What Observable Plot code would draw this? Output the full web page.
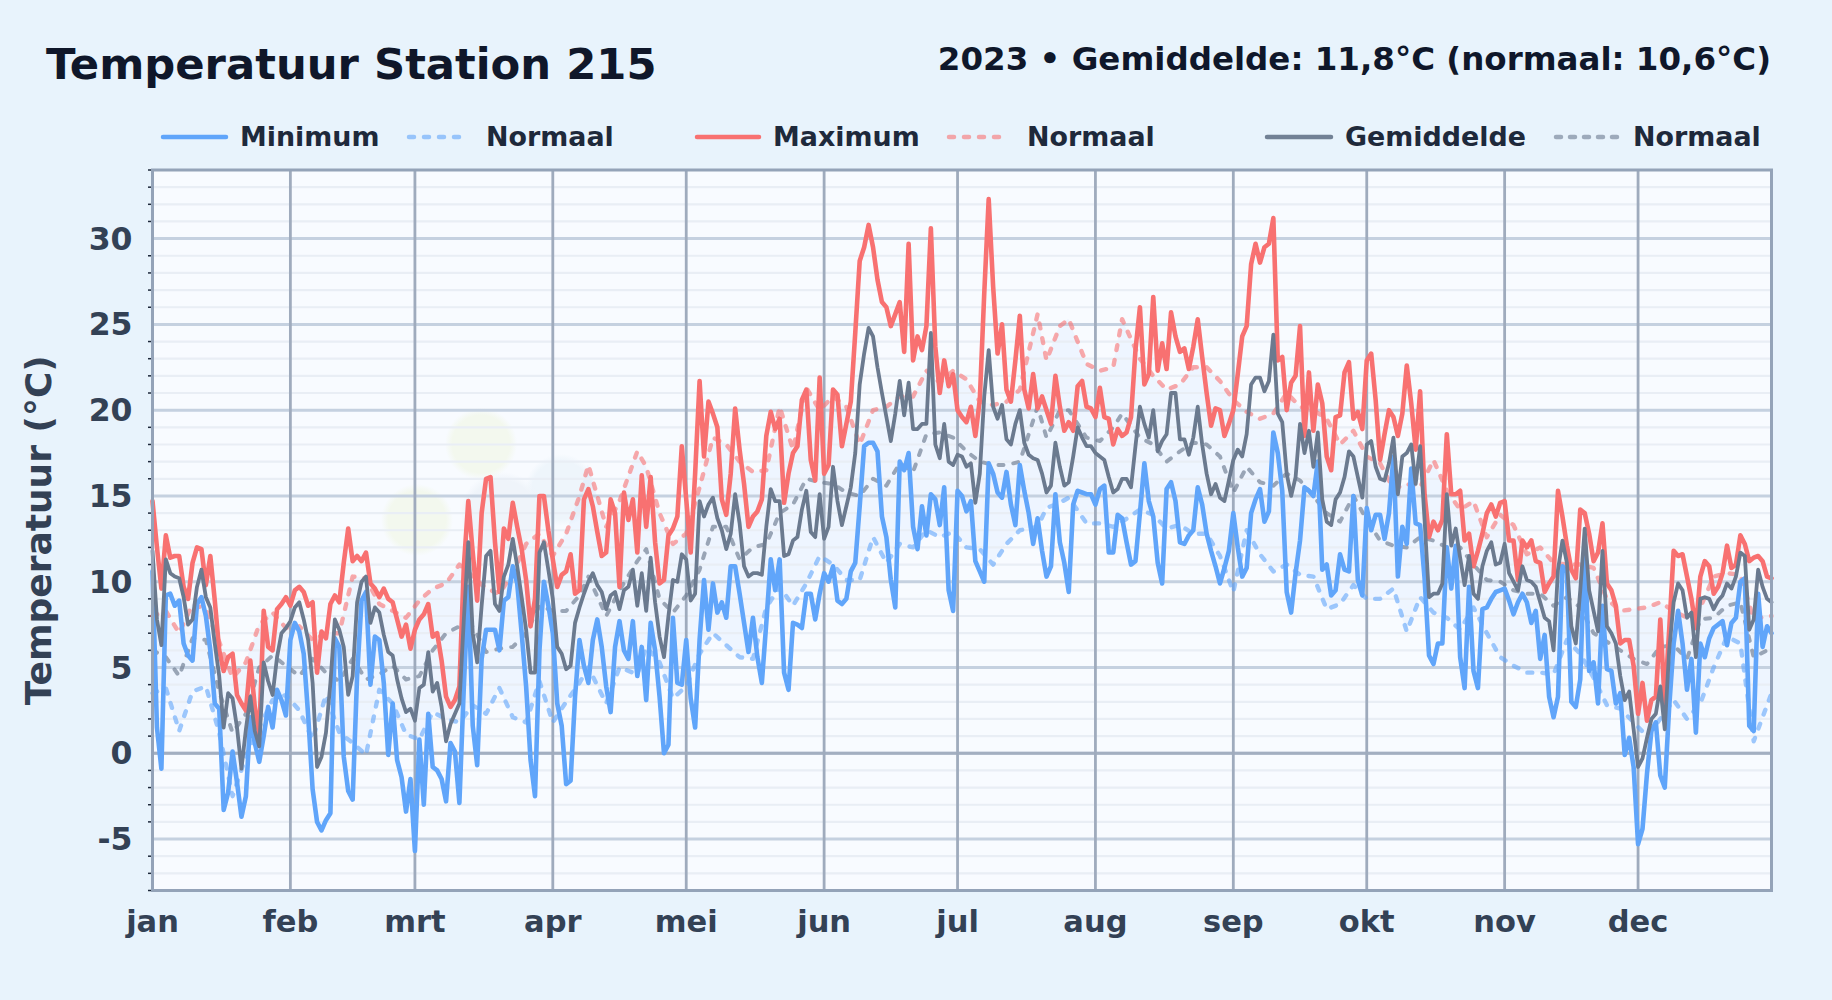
<!DOCTYPE html>
<html lang="nl">
<head>
<meta charset="utf-8">
<title>Temperatuur Station 215</title>
<script src="https://cdn.jsdelivr.net/npm/d3@7"></script>
<script src="https://cdn.jsdelivr.net/npm/@observablehq/plot@0.6"></script>
<style>
  html,body{margin:0;padding:0;background:#e8f3fc;overflow:hidden;}
  body{width:1832px;height:1000px;position:relative;font-family:"DejaVu Sans",sans-serif;font-weight:700;}
  #title{position:absolute;left:46px;top:38px;font-size:43.3px;line-height:52px;color:#0f172a;white-space:nowrap;}
  #sub{position:absolute;right:61px;top:38px;font-size:32.5px;line-height:42px;color:#0f172a;white-space:nowrap;}
  .lt{position:absolute;top:121px;font-size:26.9px;line-height:32px;color:#1e293b;white-space:nowrap;}
  .ll{position:absolute;top:127px;height:20px;overflow:visible;}
  #bg{position:absolute;left:152px;top:169px;width:1619px;height:721px;
    background:
      radial-gradient(circle 36px at 329px 275px,#f3f8ee 80%,transparent),
      radial-gradient(circle 36px at 265px 351px,#f3f8ee 80%,transparent),
      radial-gradient(circle 42px at 350px 345px,#eff4fa 80%,transparent),
      radial-gradient(circle 36px at 409px 321px,#eef5fb 80%,transparent),
      #f8fbff;}
  #chart{position:absolute;left:0;top:160px;}
  #chart svg{display:block;background:transparent;}
</style>
</head>
<body>
<div id="bg"></div>
<div id="title">Temperatuur Station 215</div>
<div id="sub">2023 • Gemiddelde: 11,8°C (normaal: 10,6°C)</div>
<div id="legend"></div>
<div id="chart"></div>
<script>
const monthLabels = ["jan","feb","mrt","apr","mei","jun","jul","aug","sep","okt","nov","dec"];
const monthStarts = [0,31,59,90,120,151,181,212,243,273,304,334];

const tMax = [
14.7,12.0,9.6,12.7,11.4,11.5,11.5,9.7,9.0,11.1,
12.0,11.9,9.8,11.5,8.9,6.0,4.8,5.6,5.8,3.4,
2.9,2.5,5.4,2.7,1.1,8.3,6.2,6.0,8.4,8.7,
9.1,8.6,9.5,9.7,9.4,8.6,8.8,4.7,7.1,6.7,
8.7,9.2,8.8,11.1,13.1,11.2,11.5,11.2,11.7,9.9,
9.6,9.1,9.6,9.0,8.8,7.8,6.8,7.5,6.1,7.2,
7.8,8.1,8.7,6.8,7.0,5.4,3.3,2.7,3.1,3.9,
10.9,14.7,11.7,8.9,14.0,16.0,16.1,12.3,9.4,13.1,
12.5,14.6,13.2,11.9,10.1,7.4,9.0,15.0,15.0,13.0,
11.3,9.7,10.4,10.6,11.6,9.3,9.5,14.8,15.4,14.4,
12.9,11.5,11.7,14.8,14.0,9.7,15.2,13.6,14.8,11.7,
16.2,13.2,16.1,12.3,9.9,10.1,12.7,13.1,13.8,17.9,
14.8,11.7,16.3,21.7,17.3,20.5,19.8,19.0,14.8,13.9,
16.3,20.1,17.7,15.7,13.2,13.8,14.1,14.8,18.5,19.9,
18.9,19.5,14.6,16.3,17.5,17.9,20.6,21.2,17.1,15.9,
21.9,16.3,16.8,21.2,20.9,17.9,19.2,20.5,24.5,28.7,
29.5,30.8,29.5,27.6,26.3,26.0,24.9,25.6,26.3,23.4,
29.7,22.9,24.3,23.5,24.9,30.6,23.7,21.0,22.9,21.4,
22.1,20.0,19.6,19.3,20.2,18.5,20.6,26.8,32.3,27.2,
23.3,25.0,21.2,20.5,22.9,25.5,21.2,20.1,22.1,20.1,
20.8,20.0,19.2,22.0,20.2,18.8,19.3,18.8,21.4,21.7,
20.2,20.1,19.6,21.3,19.6,19.5,18.0,18.9,18.5,18.7,
19.6,23.5,26.0,21.5,22.1,26.6,22.3,23.9,22.4,25.7,
24.3,23.4,23.6,22.4,23.7,25.3,23.1,21.0,19.1,20.1,
20.0,18.5,19.2,20.0,22.1,24.3,24.9,28.5,29.7,28.6,
29.5,29.7,31.2,22.9,23.1,20.0,21.6,22.0,24.9,18.5,
22.2,18.8,21.5,20.4,17.3,16.5,19.6,19.7,22.2,22.8,
19.5,19.9,18.9,22.9,23.3,20.6,17.1,18.6,20.0,19.6,
18.5,19.8,22.6,20.4,17.7,21.1,15.1,12.6,13.5,13.0,
13.6,18.6,15.1,15.1,15.3,12.4,12.8,10.9,11.8,12.8,
14.0,14.5,13.8,14.6,14.7,12.4,12.4,10.1,12.4,12.0,
12.4,11.2,11.1,9.4,9.9,10.3,15.3,13.8,12.1,10.7,
10.2,14.2,14.0,12.8,11.2,11.7,13.4,9.9,9.5,8.6,
6.4,6.6,6.6,5.1,2.3,4.1,1.9,3.1,3.3,7.8,
2.9,7.2,11.8,11.5,11.6,10.3,9.0,7.3,10.3,11.2,
10.9,9.3,9.7,10.5,12.1,10.8,11.0,12.7,12.2,11.2,
11.4,11.5,11.2,10.3,10.2];

const tMin = [
10.6,1.5,-0.9,9.2,9.3,8.6,8.9,6.4,5.7,5.4,
8.7,9.1,8.0,6.0,2.9,2.6,-3.3,-2.3,0.1,-1.7,
-3.7,-2.5,2.1,0.6,-0.5,1.0,2.7,1.5,3.7,3.1,
2.2,6.6,7.6,7.1,5.8,2.2,-2.1,-4.0,-4.5,-3.9,
-3.5,6.7,6.2,-0.2,-2.2,-2.7,4.5,8.9,9.4,4.0,
6.8,6.6,4.1,-0.1,2.9,-0.4,-1.4,-3.4,-1.5,-5.7,
0.8,-3.0,2.3,-0.8,-1.0,-1.5,-2.8,0.6,0.1,-2.9,
3.9,9.7,1.6,-0.7,5.5,7.2,7.2,7.2,6.0,8.9,
9.1,10.9,9.9,7.0,3.9,-0.4,-2.5,6.0,10.0,8.6,
7.0,2.9,1.6,-1.8,-1.6,3.3,6.6,5.1,4.1,6.6,
7.8,6.2,3.9,2.4,6.2,7.7,6.0,5.5,7.7,4.5,
6.2,3.1,7.6,6.0,3.3,0.0,0.5,7.9,4.1,4.0,
6.6,3.2,1.5,6.6,10.1,7.2,9.9,8.2,8.8,7.9,
10.9,10.9,9.3,7.6,5.9,7.9,5.6,4.1,7.6,11.3,
9.5,11.3,4.7,3.7,7.6,7.5,7.3,9.3,9.3,7.8,
9.3,10.5,10.0,10.9,8.9,8.7,9.0,10.6,11.1,14.4,
17.9,18.1,18.1,17.6,13.8,12.6,10.1,8.5,17.0,16.5,
17.5,13.2,11.9,14.4,12.7,15.1,14.8,13.3,15.5,9.5,
8.3,15.3,15.0,14.1,14.7,11.2,10.6,10.0,16.9,16.3,
15.2,14.9,16.4,14.5,13.3,16.8,15.3,14.0,12.2,13.7,
11.8,10.3,10.9,15.1,12.3,11.1,9.4,14.5,15.3,15.2,
15.1,15.1,14.5,15.4,15.6,11.7,11.7,13.9,13.7,12.3,
11.0,11.2,14.0,16.9,14.7,13.8,11.1,9.9,15.4,15.8,
14.7,12.3,12.2,12.7,13.0,15.5,14.5,12.8,11.8,10.9,
9.9,10.8,11.8,14.0,12.0,10.3,10.8,14.0,14.8,15.4,
13.5,14.1,18.7,17.5,15.3,9.4,8.2,10.5,12.4,15.5,
15.3,15.0,17.0,10.7,11.0,9.2,9.5,11.6,10.7,10.6,
15.0,10.1,9.2,14.3,13.0,13.9,13.9,12.5,14.0,17.3,
10.3,13.2,12.2,16.6,13.4,13.3,10.2,5.7,5.2,6.4,
6.4,12.0,9.6,12.1,5.6,3.8,9.7,4.8,3.8,8.4,
8.5,9.0,9.4,9.5,9.6,8.9,8.1,8.8,9.3,8.8,
7.6,8.3,5.5,6.9,3.3,2.1,3.3,10.9,10.6,3.0,
2.7,4.3,12.2,4.8,5.3,2.9,8.6,4.9,4.8,2.9,
3.5,-0.1,0.9,-0.8,-5.3,-4.4,-1.2,1.3,1.8,-1.3,
-2.0,2.7,6.4,8.3,6.4,3.7,5.5,1.2,6.4,5.6,
6.7,7.3,7.5,7.7,6.3,7.6,7.9,10.0,10.2,1.6,
1.3,9.3,6.2,7.4,7.0];

const tMean = [
11.8,7.8,6.3,11.3,10.5,10.3,10.2,9.1,7.5,7.8,
9.7,10.7,9.1,8.5,6.4,4.5,1.5,3.5,3.2,1.5,
-0.9,1.4,3.3,1.3,0.4,5.3,4.2,3.4,5.6,7.0,
7.3,7.7,8.5,8.8,7.8,6.6,4.1,-0.8,-0.2,1.2,
4.1,7.8,7.2,6.2,3.4,4.5,8.8,10.0,10.3,7.6,
8.5,8.2,6.9,5.9,5.7,4.3,3.2,2.4,2.6,1.9,
3.8,4.0,5.9,3.6,4.1,2.7,0.7,1.7,2.3,2.9,
7.8,12.3,7.0,5.3,8.6,11.5,11.8,8.7,8.3,10.3,
11.0,12.5,10.9,9.1,7.2,4.7,4.7,11.7,12.3,10.7,
9.0,6.2,5.8,4.9,5.1,7.6,8.5,9.3,10.0,10.5,
9.8,9.4,8.4,9.2,9.4,8.4,9.5,9.7,10.7,8.6,
10.5,8.3,11.4,8.8,6.8,5.6,8.0,10.1,10.0,11.6,
11.3,8.9,9.3,14.7,13.8,14.5,14.9,13.7,13.0,11.9,
12.8,15.1,13.4,10.9,10.3,10.5,10.5,10.4,13.2,15.4,
14.7,14.7,11.5,11.6,12.4,12.6,14.2,15.3,12.9,12.6,
15.1,12.5,13.2,16.7,14.7,13.3,14.4,15.5,17.5,21.5,
23.3,24.8,24.3,22.5,21.0,19.6,18.2,19.8,21.7,19.7,
21.6,18.9,18.9,19.2,19.2,24.5,18.0,17.2,19.2,17.0,
16.8,17.4,17.3,16.7,16.9,14.6,16.3,20.8,23.5,20.2,
19.5,20.3,18.3,18.0,19.2,20.0,18.1,17.4,17.2,17.1,
16.3,15.2,15.6,18.1,16.7,15.6,15.8,17.3,19.0,18.4,
17.9,17.9,17.5,17.3,17.1,16.1,15.2,15.4,16.0,16.0,
15.5,17.9,20.2,19.2,18.4,20.0,17.6,18.2,18.6,21.0,
21.0,18.3,18.3,17.4,18.4,20.2,18.0,16.3,15.1,15.7,
14.9,14.7,15.9,17.1,17.7,17.3,18.6,21.5,21.9,21.9,
21.1,21.7,24.4,19.8,19.3,16.3,15.0,16.1,19.2,17.5,
18.8,16.7,18.7,14.8,13.5,13.3,14.8,15.2,16.1,17.6,
17.3,16.1,14.9,18.0,18.2,16.7,16.0,15.9,16.9,18.4,
15.1,17.3,17.5,18.0,15.7,17.9,13.6,9.1,9.3,9.3,
9.9,15.1,12.1,13.1,11.4,9.8,11.5,9.3,9.0,10.9,
11.8,12.3,11.0,11.1,12.2,10.5,10.0,9.5,10.9,10.1,
10.0,9.7,8.8,7.9,7.7,6.0,10.7,12.4,11.1,7.4,
6.4,9.5,13.1,9.5,8.3,7.1,11.8,7.4,7.0,6.4,
4.5,3.1,3.6,1.4,-0.8,-0.3,0.9,2.0,2.3,3.9,
1.4,6.0,8.8,9.9,9.5,7.9,8.2,5.6,9.0,9.1,
9.0,8.4,8.9,9.2,9.9,9.6,10.3,11.7,11.5,7.2,
7.8,10.7,9.7,9.0,8.8];

// Normal values, about every third day
const normalDays = [0,3,6,9,12,15,18,21,24,27,30,33,36,39,42,45,48,51,54,57,60,63,66,69,72,75,78,81,84,87,90,93,96,98,102,105,109,111,114,117,120,123,126,129,132,135,138,141,144,147,150,153,156,159,162,165,168,171,174,177,180,183,186,189,192,195,199,201,204,206,210,213,216,218,222,225,228,231,234,237,240,243,246,249,252,255,258,261,264,267,270,273,276,279,282,285,288,291,294,297,300,303,306,309,312,315,318,321,324,327,330,333,336,339,342,345,348,351,354,357,360,363,364];
const normMax = [8.0,8.3,7.0,8.7,8.4,6.5,4.4,5.3,7.5,8.2,7.3,7.4,6.6,7.0,7.0,10.3,10.2,8.7,8.3,7.9,8.9,9.6,9.9,11.0,10.3,9.6,9.3,10.5,12.2,12.8,11.5,12.8,15.0,16.8,13.2,14.7,17.6,16.7,14.0,12.2,12.8,15.5,18.4,18.0,17.0,16.4,16.5,20.2,17.7,21.3,20.0,20.8,20.2,18.0,20.0,20.2,20.8,20.8,22.3,21.6,22.3,21.8,20.5,20.3,20.5,21.2,25.6,22.9,24.9,25.3,22.7,22.3,22.5,25.3,23.0,22.0,21.2,21.5,22.5,22.5,21.7,20.6,19.9,19.5,19.8,21.0,20.2,20.0,19.5,18.0,18.8,17.3,16.9,15.4,15.7,15.5,17.1,15.3,14.2,14.7,12.6,13.9,13.3,11.6,12.0,11.1,11.0,11.0,10.8,9.0,8.3,8.4,8.5,8.8,8.3,7.9,8.5,10.3,10.5,10.4,7.8,8.0,8.0];
const normMean = [6.0,5.6,4.5,6.7,6.6,3.6,1.2,2.3,5.0,5.7,5.1,4.5,5.5,4.7,4.2,5.5,4.3,4.6,5.1,4.3,4.5,6.0,7.0,7.4,7.4,5.9,6.1,6.2,7.0,8.6,8.3,8.3,9.2,10.3,8.0,9.5,11.2,11.9,9.0,8.2,9.2,10.7,13.2,13.2,11.3,12.0,12.2,14.0,14.5,16.0,15.8,15.7,15.2,15.0,16.0,15.6,16.9,16.4,18.6,18.7,18.4,17.6,17.0,16.8,16.8,17.0,20.2,18.4,20.0,20.0,18.4,18.2,19.0,19.8,18.4,18.0,17.0,17.6,18.1,18.0,17.3,15.2,16.7,15.8,15.6,16.3,15.9,15.0,14.0,13.5,15.0,13.6,12.4,12.1,12.0,12.6,12.4,12.0,12.0,11.0,10.1,10.0,9.5,9.3,9.3,8.6,9.1,8.5,7.0,6.5,6.0,5.5,5.2,6.2,6.3,5.5,7.8,7.9,8.6,8.8,5.6,6.0,6.3];
const normMin = [3.5,3.8,1.3,3.6,3.9,1.2,-2.5,-0.2,1.5,3.1,3.4,2.5,0.8,3.4,1.2,0.6,-0.1,3.7,2.9,1.1,0.8,2.4,2.0,1.8,2.8,2.3,3.8,2.1,1.8,4.2,1.8,3.0,4.1,5.0,2.9,5.0,4.6,6.2,5.3,3.2,3.9,5.8,7.0,6.3,5.6,5.5,8.5,9.7,8.6,9.9,11.5,11.0,10.1,10.1,12.6,11.1,12.2,12.0,13.0,12.6,12.9,12.0,11.9,11.0,12.2,13.0,13.2,14.3,14.6,14.9,13.4,13.4,13.2,13.5,14.2,13.9,13.1,13.3,12.8,12.8,11.5,9.4,13.0,11.6,10.6,11.0,10.4,10.3,8.4,8.7,9.8,9.0,9.0,9.6,7.1,9.1,8.2,7.9,7.2,8.5,7.0,5.6,5.1,4.7,4.7,4.6,6.6,5.8,4.4,2.8,2.6,1.8,1.0,2.0,3.1,2.0,2.9,5.0,6.8,6.4,0.7,2.8,3.5];

const legendItems = [
  {label:"Minimum",  color:"#60a5fa", dash:null,  op:1,   x1:161,  x2:228,  tx:240},
  {label:"Normaal",  color:"#60a5fa", dash:"5 10", op:.6, x1:407,  x2:464,  tx:486},
  {label:"Maximum",  color:"#f87171", dash:null,  op:1,   x1:695,  x2:761,  tx:773},
  {label:"Normaal",  color:"#f87171", dash:"5 10", op:.6, x1:947,  x2:1005, tx:1027},
  {label:"Gemiddelde",color:"#6b7a8f",dash:null,  op:.95, x1:1265, x2:1333, tx:1345},
  {label:"Normaal",  color:"#6b7a8f", dash:"5 9", op:.6, x1:1554, x2:1619, tx:1633}
];
const legend = d3.select("#legend");
legendItems.forEach(d => {
  const s = legend.append("svg").attr("class","ll")
    .style("left", d.x1+"px").attr("width", d.x2-d.x1).attr("height",20);
  s.append("line").attr("x1",2).attr("x2",d.x2-d.x1-2).attr("y1",10).attr("y2",10)
    .attr("stroke",d.color).attr("stroke-width",4.5).attr("stroke-linecap","round")
    .attr("stroke-opacity",d.op).attr("stroke-dasharray",d.dash);
  legend.append("div").attr("class","lt").style("left",d.tx+"px").text(d.label);
});

const daily = tMax.map((v,i)=>({day:i,max:v,min:tMin[i],mean:tMean[i]}));
const normals = normalDays.map((d,i)=>({day:d,max:normMax[i],mean:normMean[i],min:normMin[i]}));
const minorY = d3.range(-8,35).filter(v=>v%5!==0);
const majorY = d3.range(-5,31,5);

const chart = Plot.plot({
  width:1832, height:840,
  marginTop:9.5, marginBottom:110, marginLeft:152, marginRight:61,
  style:{background:"transparent",fontFamily:"'DejaVu Sans',sans-serif",overflow:"visible"},
  x:{type:"linear",domain:[0,364],axis:null},
  y:{type:"linear",domain:[-8,34],axis:null},
  marks:[
    Plot.areaY(normals,{x:"day",y1:"min",y2:"max",fill:"#3b82f6",fillOpacity:.05}),
    Plot.ruleY(minorY,{stroke:"#e9eef5",strokeWidth:2.2}),
    Plot.ruleY(majorY,{stroke:"#c5d1e0",strokeWidth:3}),
    Plot.ruleY([0],{stroke:"#a3afc1",strokeWidth:3}),
    Plot.ruleX(monthStarts,{stroke:"#9fabbd",strokeWidth:2.8}),
    Plot.axisY({ticks:minorY,tickSize:4,tickFormat:()=>"",stroke:"#1e293b",strokeWidth:1.5,label:null}),
    Plot.axisY({ticks:majorY,tickSize:0,tickPadding:20,tickFormat:String,fontSize:31.5,fontWeight:700,color:"#334155",label:null,dy:1}),
    Plot.axisX({ticks:monthStarts,tickSize:0,tickPadding:19.5,tickFormat:d=>monthLabels[monthStarts.indexOf(d)],fontSize:30.5,fontWeight:700,color:"#334155",label:null}),
    Plot.text(["Temperatuur (°C)"],{frameAnchor:"left",textAnchor:"middle",rotate:-90,dx:-113,fontSize:36,fontWeight:700,fill:"#334155"}),
    Plot.line(normals,{x:"day",y:"min",stroke:"#60a5fa",strokeWidth:4.4,strokeOpacity:.6,strokeDasharray:"5 10",strokeLinecap:"round"}),
    Plot.line(normals,{x:"day",y:"max",stroke:"#f87171",strokeWidth:4.4,strokeOpacity:.6,strokeDasharray:"5 10",strokeLinecap:"round"}),
    Plot.line(normals,{x:"day",y:"mean",stroke:"#6b7a8f",strokeWidth:4,strokeOpacity:.65,strokeDasharray:"5 10",strokeLinecap:"round"}),
    Plot.line(daily,{x:"day",y:"min",stroke:"#60a5fa",strokeWidth:4.6}),
    Plot.line(daily,{x:"day",y:"max",stroke:"#f87171",strokeWidth:4.6}),
    Plot.line(daily,{x:"day",y:"mean",stroke:"#6b7a8f",strokeWidth:3.8}),
    Plot.frame({stroke:"#94a3b8",strokeWidth:3})
  ]
});
document.getElementById("chart").appendChild(chart);
</script>
</body>
</html>
